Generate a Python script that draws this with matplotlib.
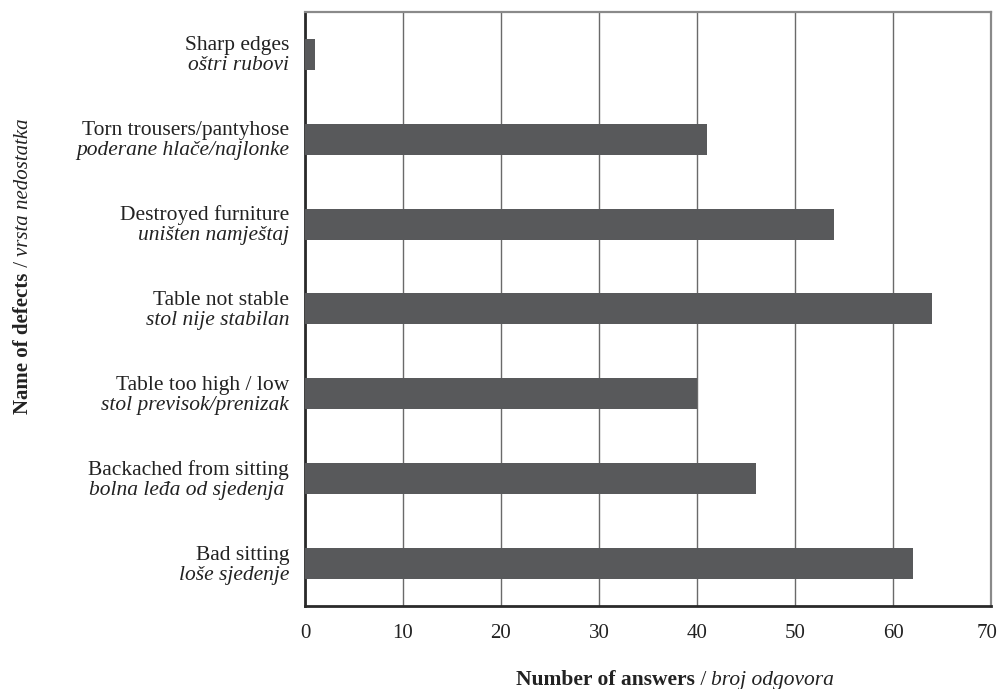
import matplotlib
matplotlib.use("Agg")
import matplotlib.pyplot as plt
from matplotlib.transforms import ScaledTranslation

# Survey data: defects reported and number of answers
defects_en = [
    "Sharp edges",
    "Torn trousers/pantyhose",
    "Destroyed furniture",
    "Table not stable",
    "Table too high / low",
    "Backached from sitting",
    "Bad sitting",
]
defects_hr = [
    "oštri rubovi",
    "poderane hlače/najlonke",
    "uništen namještaj",
    "stol nije stabilan",
    "stol previsok/prenizak",
    "bolna leđa od sjedenja ",
    "loše sjedenje",
]
answers = [1, 41, 54, 64, 40, 46, 62]
x_ticks = [0, 10, 20, 30, 40, 50, 60, 70]

plt.rcParams["font.family"] = ["Liberation Serif", "DejaVu Serif"]
FS = 15.5
TXT = "#222222"

fig = plt.figure(figsize=(9.99, 6.89), dpi=100)
ax = fig.add_axes([0.3053, 0.1205, 0.992 - 0.3053, 0.9826 - 0.1205])

n = len(answers)
ypos = list(range(n - 1, -1, -1))  # first category at top
ax.barh(ypos, answers, height=0.365, color="#58595b", zorder=3)

ax.set_xlim(0, 70)
ax.set_ylim(-0.5, n - 0.5)
ax.set_xticks(x_ticks)
ax.set_xticklabels([str(t) for t in x_ticks], fontsize=15, color=TXT)
ax.tick_params(axis="x", length=0, pad=13)
ax.set_yticks([])

# keep the last tick label inside the figure edge
last = ax.get_xticklabels()[-1]
last.set_transform(last.get_transform()
                   + ScaledTranslation(-3 / 72, 0, fig.dpi_scale_trans))

ax.grid(axis="x", color="#6a6a6a", linewidth=1.0, zorder=0)
ax.set_axisbelow(True)

for side in ("top", "right"):
    ax.spines[side].set_color("#8a8a8a")
    ax.spines[side].set_linewidth(1.6)
for side in ("left", "bottom"):
    ax.spines[side].set_color("#2a2a2a")
    ax.spines[side].set_linewidth(2.0)

# Two-line category labels: English on top, Croatian in italics below
ytrans = ax.get_yaxis_transform()
unit = (0.9826 - 0.1205) * 689 / n  # pixels per category
for y, en, hr in zip(ypos, defects_en, defects_hr):
    ax.text(-0.023, y + 4 / unit, en, transform=ytrans, ha="right",
            va="baseline", fontsize=FS, color=TXT)
    ax.text(-0.023, y - 16 / unit, hr, transform=ytrans, ha="right",
            va="baseline", fontsize=FS, style="italic", color=TXT)

fig.canvas.draw()
renderer = fig.canvas.get_renderer()

# X axis title: bold / regular / italic pieces laid out side by side
parts_x = [("Number of answers", "bold", "normal"),
           (" / ", "normal", "normal"),
           ("broj odgovora", "normal", "italic")]
texts = []
for s, w, st in parts_x:
    t = fig.text(0, 0, s, fontsize=FS, fontweight=w, style=st,
                 ha="left", va="baseline", color=TXT)
    texts.append(t)
widths = [t.get_window_extent(renderer).width for t in texts]
total = sum(widths)
cx = 675
x = cx - total / 2
base_y = 689 - 685
for t, w in zip(texts, widths):
    t.set_position((x / 999, base_y / 689))
    x += w

# Y axis title, rotated, reading bottom to top
parts_y = [("Name of defects", "bold", "normal"),
           (" / ", "normal", "normal"),
           ("vrsta nedostatka", "normal", "italic")]
ytexts = []
for s, w, st in parts_y:
    t = fig.text(0, 0, s, fontsize=15, fontweight=w, style=st, rotation=90,
                 rotation_mode="anchor", ha="left", va="baseline",
                 color=TXT)
    ytexts.append(t)
heights = [t.get_window_extent(renderer).height for t in ytexts]
total_h = sum(heights)
cy = 689 - 266
y = cy - total_h / 2
base_x = 28
for t, h in zip(ytexts, heights):
    t.set_position((base_x / 999, y / 689))
    y += h

fig.savefig("out.png", dpi=100)
